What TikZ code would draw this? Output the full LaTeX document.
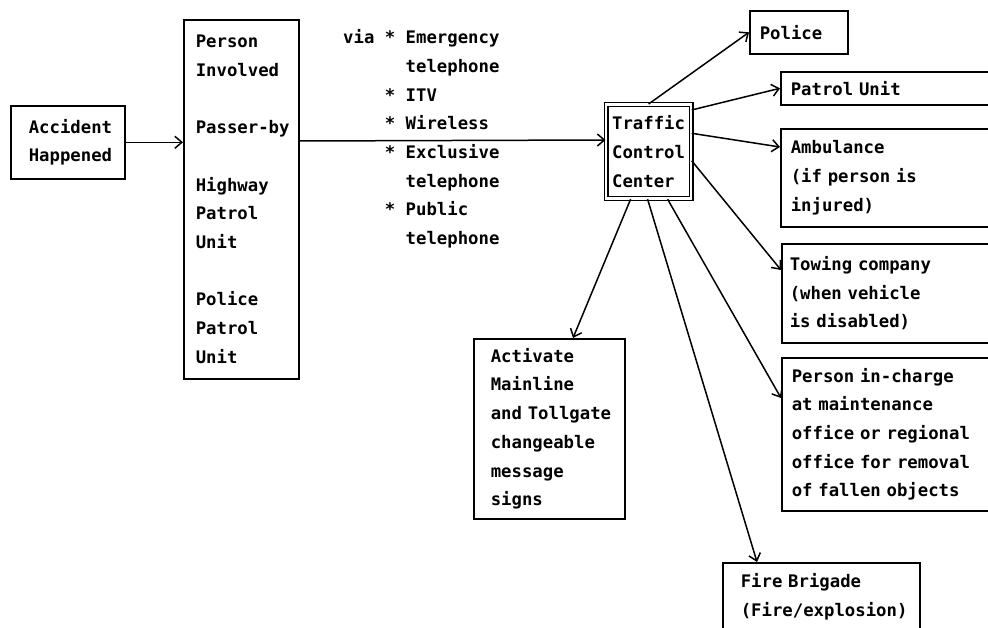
\documentclass[tikz,border=0pt]{standalone}
\usepackage{fontspec}
\newfontfamily\diagfont{DejaVu Sans Mono}
\usetikzlibrary{arrows.meta,calc}
\hyphenpenalty=10000
\exhyphenpenalty=10000
\hbadness=10000
\hfuzz=50pt
\begin{document}
\begin{tikzpicture}[x=1pt,y=-1pt,
  txt/.style={font=\diagfont\bfseries\fontsize{17.3}{28.7}\selectfont},
  box/.style={draw, line width=1.6pt, txt, align=left, anchor=north west, inner ysep=0pt},
  arr/.style={line width=1.5pt, -{Straight Barb[length=7pt,width=12pt]}}]
\useasboundingbox (0,0) rectangle (988,628);

\node[box, text width=78pt, inner xsep=18pt, minimum height=73pt] (acc) at (10,105) {Accident\\Happened};
\node[box, text width=91pt, inner xsep=12pt, minimum height=359pt] (src) at (183,19)
  {Person\\Involved\\[28.7pt]Passer-by\\[28.7pt]Highway\\Patrol\\Unit\\[28.7pt]Police\\Patrol\\Unit};
\node[txt, align=left, anchor=west, inner sep=0pt] (via) at (343,139)
  {via * Emergency\\\phantom{via~*~}telephone\\\phantom{via~}*~ITV\\\phantom{via~}*~Wireless\\\phantom{via~}*~Exclusive\\\phantom{via~*~}telephone\\\phantom{via~}*~Public\\\phantom{via~*~}telephone};
\node[draw, double, double distance=2.4pt, line width=1.2pt, txt, align=left, text width=73pt,
  inner xsep=6pt, inner ysep=0pt, minimum height=94pt, anchor=north west] (tcc) at (605.5,104)
  {Traffic\\Control\\Center};

\node[box, text width=78pt, inner xsep=10pt, minimum height=43pt] (pol) at (749,10) {Police};
\node[box, text width=210pt, inner xsep=10pt, minimum height=33pt] (pat) at (780,71) {Patrol Unit};
\node[box, text width=210pt, inner xsep=10pt, minimum height=98pt] (amb) at (780,128) {Ambulance\\(if person is\\injured)};
\node[box, text width=214pt, inner xsep=8pt, minimum height=99pt] (tow) at (781,243) {Towing company\\(when vehicle\\is disabled)};
\node[box, text width=210pt, inner xsep=10pt, minimum height=153pt] (per) at (781,357)
  {Person in-charge\\at maintenance\\office or regional\\office for removal\\of fallen objects};
\node[box, text width=117pt, inner xsep=17pt, minimum height=180pt] (act) at (473,338)
  {Activate\\Mainline\\and~Tollgate\\changeable\\message\\signs};
\node[box, text width=161pt, inner xsep=18pt, minimum height=68pt] (fire) at (722,562) {Fire Brigade\\(Fire/explosion)};

\draw[arr] (acc.east) -- (acc.east -| src.west);
\draw[arr] (src.east |- 0,141) -- (tcc.west |- 0,140);
\draw[arr] (tcc.north) -- (pol.west);
\draw[arr] (tcc.44) -- (pat.west);
\draw[arr] (tcc.23) -- ([yshift=-19pt]amb.north west);
\draw[arr] (tcc.-12) -- ([yshift=-27pt]tow.north west);
\draw[arr] ([xshift=19pt]tcc.south) -- ([yshift=-41pt]per.north west);
\draw[arr] ([xshift=-1pt]tcc.south) -- ([xshift=35pt]fire.north west);
\draw[arr] ([xshift=-18pt]tcc.south) -- ([xshift=100pt]act.north west);
\end{tikzpicture}
\end{document}
